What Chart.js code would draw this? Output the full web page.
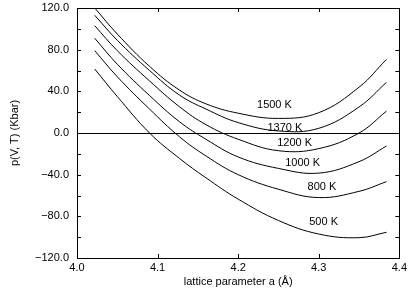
<!DOCTYPE html>
<html>
<head>
<meta charset="utf-8">
<script src="https://cdn.jsdelivr.net/npm/chart.js@4/dist/chart.umd.min.js"></script>
<style>
html,body{margin:0;padding:0;background:#fff;}
#wrap{width:410px;height:297px;}
</style>
</head>
<body>
<div id="wrap"><canvas id="c" width="410" height="297"></canvas></div>
<script>
// lattice parameter a (Å) sample positions
const latticeA = [4.022, 4.05, 4.09, 4.127, 4.16, 4.2, 4.25, 4.3, 4.35, 4.384];
// pressure p(V,T) in Kbar for each temperature
const p1500 = [120, 95, 64, 41.3, 28, 19, 14, 19.5, 44, 70.7];
const p1370 = [113, 89, 60, 36.5, 23, 10, 2, 4.5, 25, 48.6];
const p1200 = [103, 79, 50, 25.3, 8, -6, -17, -15, 0, 21];
const p1000 = [91, 66, 36, 10.9, -6, -23, -34, -38.5, -27.5, -12.5];
const p800  = [79, 54, 23, -3.5, -22, -40, -54, -62, -56, -46.7];
const p500  = [61.4, 35, 0, -24.3, -43, -63.5, -84, -97, -100.5, -95.3];
const seriesNames = ['1500 K', '1370 K', '1200 K', '1000 K', '800 K', '500 K'];
const seriesValues = [p1500, p1370, p1200, p1000, p800, p500];
// curve label anchor positions (data coordinates)
const labelA = [4.245, 4.258, 4.270, 4.280, 4.304, 4.306];
const labelP = [26.9, 5.3, -9.6, -28.8, -51.8, -85.4];
// axis tick settings
const xTickLabels = ['4.0', '4.1', '4.2', '4.3', '4.4'];
const yMajorTicks = [-120, -80, -40, 0, 40, 80, 120];

const FONT = 'Liberation Sans, Arial, Helvetica, sans-serif';

const datasets = seriesValues.map((vals, i) => ({
  label: seriesNames[i],
  data: latticeA.map((a, j) => ({x: a, y: vals[j]})),
  borderColor: '#000',
  borderWidth: 1,
  pointRadius: 0,
  fill: false,
  tension: 0.4
}));

const framePlugin = {
  id: 'frame',
  afterDatasetsDraw(chart) {
    const {ctx, chartArea: ca, scales} = chart;
    const xs = scales.x, ys = scales.y;
    ctx.save();
    ctx.strokeStyle = '#000';
    ctx.lineWidth = 1;
    // zero line
    const y0 = Math.round(ys.getPixelForValue(0)) + 0.5;
    ctx.beginPath(); ctx.moveTo(ca.left, y0); ctx.lineTo(ca.right, y0); ctx.stroke();
    // frame
    ctx.strokeRect(Math.round(ca.left) + 0.5, Math.round(ca.top) + 0.5,
                   Math.round(ca.right - ca.left), Math.round(ca.bottom - ca.top));
    // inward ticks
    const tl = 4;
    ys.ticks.forEach(t => {
      const py = Math.round(ys.getPixelForValue(t.value)) + 0.5;
      ctx.beginPath();
      ctx.moveTo(ca.left, py); ctx.lineTo(ca.left + tl, py);
      ctx.moveTo(ca.right, py); ctx.lineTo(ca.right - tl, py);
      ctx.stroke();
    });
    xs.ticks.forEach(t => {
      const px = Math.round(xs.getPixelForValue(t.value)) + 0.5;
      ctx.beginPath();
      ctx.moveTo(px, ca.bottom); ctx.lineTo(px, ca.bottom - tl);
      ctx.moveTo(px, ca.top); ctx.lineTo(px, ca.top + tl);
      ctx.stroke();
    });
    // curve labels
    ctx.fillStyle = '#000';
    ctx.font = '11px ' + FONT;
    ctx.textAlign = 'center';
    ctx.textBaseline = 'middle';
    seriesNames.forEach((n, i) => {
      ctx.fillText(n, xs.getPixelForValue(labelA[i]), ys.getPixelForValue(labelP[i]));
    });
    ctx.restore();
  }
};

new Chart(document.getElementById('c'), {
  type: 'line',
  data: {datasets},
  options: {
    responsive: false,
    animation: false,
    devicePixelRatio: 1,
    layout: {padding: {top: 8, right: 9, bottom: 0, left: 0}},
    plugins: {legend: {display: false}, tooltip: {enabled: false}},
    scales: {
      x: {
        type: 'linear',
        min: 4.0, max: 4.4,
        afterFit(s) { s.height = 39; },
        ticks: {
          stepSize: 0.1,
          color: '#000',
          padding: 3,
          maxRotation: 0,
          font: {family: FONT, size: 11},
          callback(v) {
            const idx = Math.round((v - 4.0) / 0.1);
            return xTickLabels[idx] !== undefined ? xTickLabels[idx] : '';
          }
        },
        grid: {display: false, drawTicks: false},
        border: {display: false},
        title: {
          display: true,
          text: 'lattice parameter a (Å)',
          color: '#000',
          font: {family: FONT, size: 11},
          padding: {top: 0, bottom: 8}
        }
      },
      y: {
        min: -120, max: 120,
        afterFit(s) { s.width = 77; s.paddingTop = 0; s.paddingBottom = 0; },
        ticks: {
          stepSize: 20,
          color: '#000',
          padding: 8,
          font: {family: FONT, size: 11},
          callback(v) {
            if (!yMajorTicks.includes(v)) return '';
            const s = Math.abs(v).toFixed(1);
            return v < 0 ? '\u2212' + s : s;
          }
        },
        grid: {display: false, drawTicks: false},
        border: {display: false},
        title: {
          display: true,
          text: 'p(V, T) (Kbar)',
          color: '#000',
          font: {family: FONT, size: 11},
          padding: {top: 8, bottom: 0}
        }
      }
    }
  },
  plugins: [framePlugin]
});
</script>
</body>
</html>
